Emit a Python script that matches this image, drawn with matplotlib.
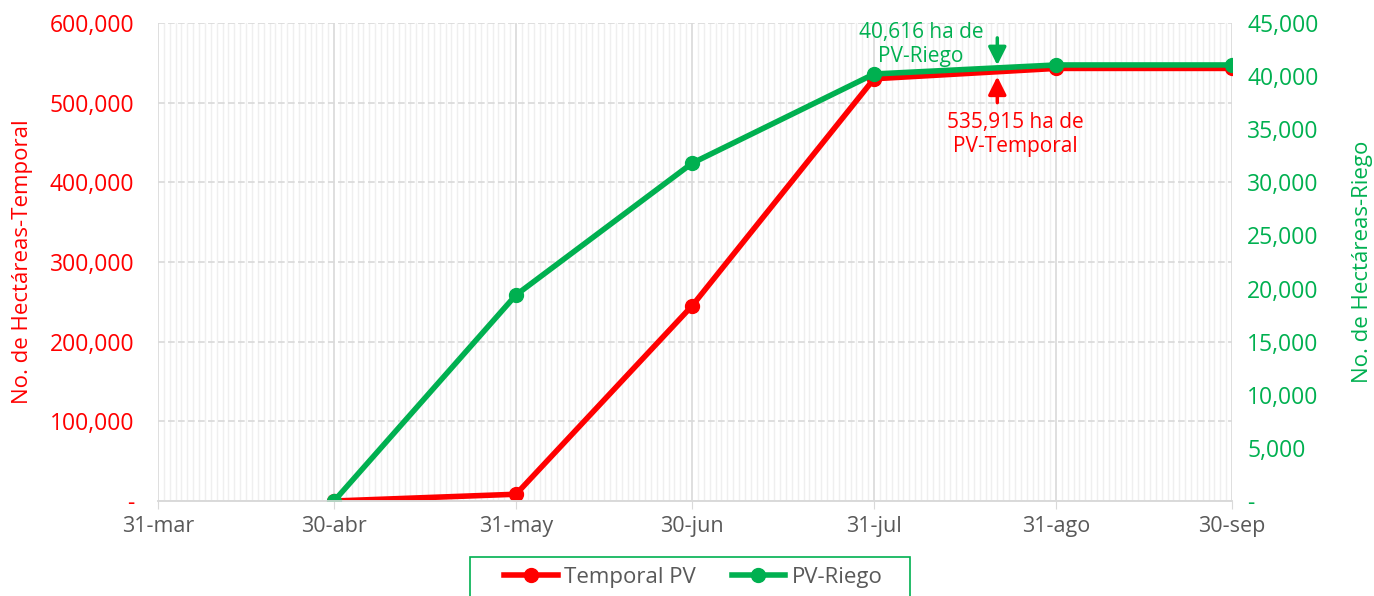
import datetime as dt
import numpy as np
import matplotlib.pyplot as plt
import matplotlib.dates as mdates
from matplotlib.patches import Rectangle
from matplotlib.ticker import FuncFormatter, MultipleLocator

plt.rcParams['font.family'] = ['Open Sans', 'DejaVu Sans']

RED = '#FF0000'
GREEN = '#00B050'
GREY = '#595959'

# data
fechas = [dt.date(2023, 4, 30), dt.date(2023, 5, 31), dt.date(2023, 6, 30),
          dt.date(2023, 7, 31), dt.date(2023, 8, 31), dt.date(2023, 9, 30)]
temporal = [0, 8500, 245000, 530000, 543000, 543000]
riego = [0, 19400, 31800, 40200, 41050, 41050]

tick_dates = [dt.date(2023, 3, 31)] + fechas
tick_labels = ['31-mar', '30-abr', '31-may', '30-jun', '31-jul', '31-ago', '30-sep']

fig = plt.figure(figsize=(13.74, 5.96), dpi=100)
ax = fig.add_axes([0.115, 0.1594, 0.7817, 0.802])
ax2 = ax.twinx()

ax.set_xlim(tick_dates[0], tick_dates[-1])
ax.set_ylim(0, 600000)
ax2.set_ylim(0, 45000)

ax.set_xticks(mdates.date2num(tick_dates))
ax.set_xticklabels(tick_labels)
ax.xaxis.set_minor_locator(mdates.DayLocator())
ax.yaxis.set_major_locator(MultipleLocator(100000))
ax2.yaxis.set_major_locator(MultipleLocator(5000))

fmt = FuncFormatter(lambda v, p: '-' if v == 0 else f'{v:,.0f}')
ax.yaxis.set_major_formatter(fmt)
ax2.yaxis.set_major_formatter(fmt)

ax.grid(axis='x', which='major', color='#D9D9D9', lw=1.2)
ax.grid(axis='x', which='minor', color='#EFEFEF', lw=1.0)
ax.grid(axis='y', which='major', color='#D9D9D9', lw=1.2, ls=(0, (4, 2)))
ax.set_axisbelow(True)

for a in (ax, ax2):
    for s in ('top', 'left', 'right'):
        a.spines[s].set_visible(False)
    a.spines['bottom'].set_color('#D9D9D9')
    a.spines['bottom'].set_linewidth(1.2)

ax.tick_params(axis='x', which='major', length=6, color='#D9D9D9', labelsize=15.5,
               labelcolor=GREY, pad=5)
ax.tick_params(axis='x', which='minor', length=0)
ax.tick_params(axis='y', length=0, labelsize=16.5, labelcolor=RED, pad=17)
ax2.tick_params(axis='y', length=0, labelsize=16.5, labelcolor=GREEN, pad=11)

l1, = ax.plot(fechas, temporal, color=RED, lw=4, marker='o', ms=10, label='Temporal PV')
l2, = ax2.plot(fechas, riego, color=GREEN, lw=4, marker='o', ms=10, label='PV-Riego')

ax.set_ylabel('No. de Hectáreas-Temporal', color=RED, fontsize=16, labelpad=12)
ax2.set_ylabel('No. de Hectáreas-Riego', color=GREEN, fontsize=16, labelpad=24)

# annotations
xn = mdates.date2num(fechas)
xa = mdates.date2num(dt.date(2023, 8, 21))
y_r = np.interp(xa, xn, riego)
y_t = np.interp(xa, xn, temporal)
ax2.annotate('', xy=(xa, y_r + 250), xytext=(xa, 43600),
             arrowprops=dict(arrowstyle='-|>,head_width=0.3,head_length=0.6', color=GREEN,
                             lw=2.5, mutation_scale=18, shrinkA=0, shrinkB=0))
ax2.text(mdates.date2num(dt.date(2023, 8, 8)), 43000, '40,616 ha de\nPV-Riego',
         color=GREEN, fontsize=15, ha='center', va='center', linespacing=1.2)
ax.annotate('', xy=(xa, y_t - 6000), xytext=(xa, 500000),
            arrowprops=dict(arrowstyle='-|>,head_width=0.3,head_length=0.6', color=RED,
                            lw=2.5, mutation_scale=18, shrinkA=0, shrinkB=0))
ax.text(mdates.date2num(dt.date(2023, 8, 24)), 460000, '535,915 ha de\nPV-Temporal',
        color=RED, fontsize=15, ha='center', va='center', linespacing=1.2)

leg = ax2.legend(handles=[l1, l2], loc='upper center', bbox_to_anchor=(0.4985, -0.117),
                 ncol=2, frameon=False, fontsize=16, handlelength=2.4,
                 handletextpad=0.3, columnspacing=1.6, borderpad=0.45, borderaxespad=0)
for t in leg.get_texts():
    t.set_color(GREY)
fig.patches.append(Rectangle((470 / 1374, -0.05), 440 / 1374, 0.05 + 39 / 596,
                             transform=fig.transFigure, fill=False, edgecolor=GREEN,
                             lw=1.2))

fig.savefig('out.png', dpi=100)
